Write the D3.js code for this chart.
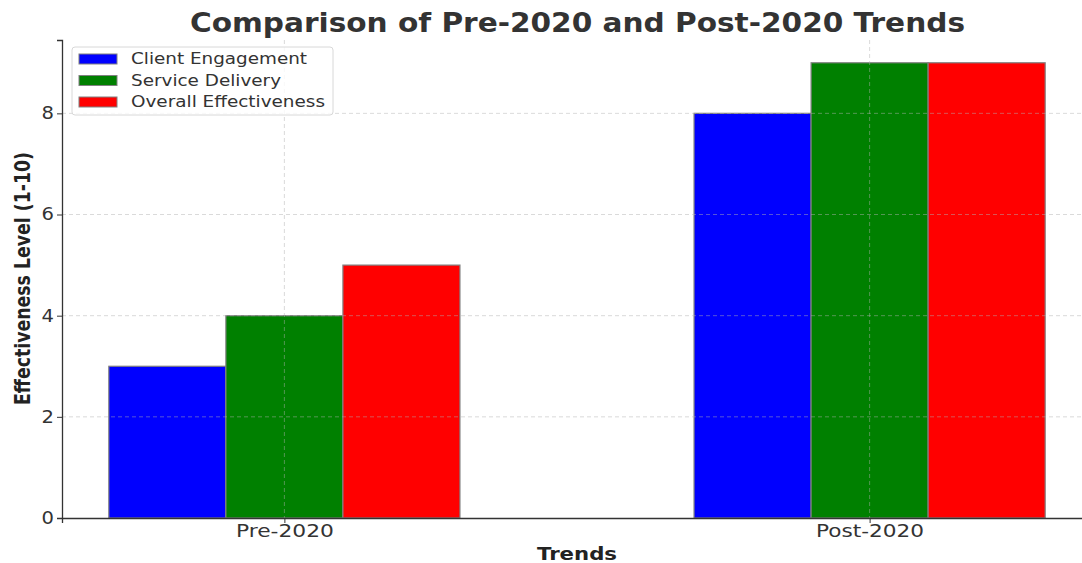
<!DOCTYPE html>
<html>
<head>
<meta charset="utf-8">
<script src="https://cdn.jsdelivr.net/npm/d3@7"></script>
<style>
  body { margin: 0; background: #fff; }
  text { font-family: "DejaVu Sans", sans-serif; }
</style>
</head>
<body>
<div id="chart"></div>
<script>
// chart data
var categories = ["Pre-2020", "Post-2020"];
var seriesNames = ["Client Engagement", "Service Delivery", "Overall Effectiveness"];
var clientEngagement = [3, 8];
var serviceDelivery = [4, 9];
var overallEffectiveness = [5, 9];
var yTicks = [0, 2, 4, 6, 8];
var colors = ["#0000ff", "#008000", "#ff0000"];

var seriesValues = [clientEngagement, serviceDelivery, overallEffectiveness];

var svgWidth = 1082;
var svgHeight = 563;

var margin = { top: 40, right: -10, bottom: 45, left: 62 };
var width = svgWidth - margin.left - margin.right;
var height = svgHeight - margin.top - margin.bottom;

// the reference text is stretched sideways, so widths are forced
var catLabelWidth = [98, 108];
var legendTextWidth = [176, 150, 194];

var svg = d3.select("#chart")
  .append("svg")
  .attr("width", svgWidth)
  .attr("height", svgHeight);

var chartGroup = svg.append("g")
  .attr("transform", `translate(${margin.left}, ${margin.top})`);

var barW = 0.2;

// category i sits at x = i, bars offset by -0.2, 0, 0.2
var xScale = d3.scaleLinear()
  .domain([-0.38, 1.38])
  .range([0, width]);

var yScale = d3.scaleLinear()
  .domain([0, 9.45])
  .range([height, 0]);

// bars
seriesValues.forEach(function (vals, s) {
  chartGroup.selectAll(".bar-" + s)
    .data(vals)
    .enter()
    .append("rect")
    .attr("x", (d, i) => xScale(i + (s - 1) * barW - barW / 2))
    .attr("y", d => yScale(d))
    .attr("width", xScale(barW) - xScale(0))
    .attr("height", d => yScale(0) - yScale(d))
    .attr("fill", colors[s])
    .attr("stroke", "#808080")
    .attr("stroke-width", 1.2);
});

// grid lines (above bars)
chartGroup.selectAll(".hgrid")
  .data(yTicks.slice(1))
  .enter()
  .append("line")
  .attr("x1", 0)
  .attr("x2", width)
  .attr("y1", d => yScale(d))
  .attr("y2", d => yScale(d))
  .attr("stroke", "#b0b0b0")
  .attr("stroke-opacity", 0.6)
  .attr("stroke-dasharray", "4,3")
  .attr("stroke-width", 0.8);

chartGroup.selectAll(".vgrid")
  .data(categories)
  .enter()
  .append("line")
  .attr("x1", (d, i) => xScale(i))
  .attr("x2", (d, i) => xScale(i))
  .attr("y1", 0)
  .attr("y2", height)
  .attr("stroke", "#b0b0b0")
  .attr("stroke-opacity", 0.6)
  .attr("stroke-dasharray", "4,3")
  .attr("stroke-width", 0.8);

// axes
var leftAxis = d3.axisLeft(yScale)
  .tickValues(yTicks)
  .tickFormat(d3.format("d"))
  .tickSize(5)
  .tickPadding(3);

var bottomAxis = d3.axisBottom(xScale)
  .tickValues([0, 1])
  .tickFormat((d, i) => categories[i])
  .tickSize(5)
  .tickPadding(2);

var yAxisG = chartGroup.append("g").call(leftAxis);
var xAxisG = chartGroup.append("g")
  .attr("transform", `translate(0, ${height})`)
  .call(bottomAxis);

[yAxisG, xAxisG].forEach(function (g) {
  g.select(".domain").attr("stroke", "#333").attr("stroke-width", 1.3);
  g.selectAll(".tick line").attr("stroke", "#333").attr("stroke-width", 1);
  g.selectAll(".tick text")
    .style("font-family", "DejaVu Sans")
    .style("font-size", "17px")
    .attr("fill", "#333");
});

yAxisG.selectAll(".tick text")
  .attr("transform", function () {
    var x = +d3.select(this).attr("x");
    return `translate(${x}, 0) scale(1.15, 1) translate(${-x}, 0)`;
  });

xAxisG.selectAll(".tick text")
  .attr("textLength", (d, i) => catLabelWidth[i])
  .attr("lengthAdjust", "spacingAndGlyphs");

// legend
var legend = chartGroup.append("g")
  .attr("transform", "translate(10, 7)");

legend.append("rect")
  .attr("width", 261)
  .attr("height", 68)
  .attr("rx", 3)
  .attr("fill", "#fff")
  .attr("fill-opacity", 0.8)
  .attr("stroke", "#d8d8d8");

seriesNames.forEach(function (name, s) {
  legend.append("rect")
    .attr("x", 7)
    .attr("y", 7 + s * 21.5)
    .attr("width", 38)
    .attr("height", 10)
    .attr("fill", colors[s])
    .attr("stroke", "#808080");
  legend.append("text")
    .attr("x", 59)
    .attr("y", 17 + s * 21.5)
    .style("font-size", "15px")
    .attr("textLength", legendTextWidth[s])
    .attr("lengthAdjust", "spacingAndGlyphs")
    .attr("fill", "#333")
    .text(name);
});

// title and axis labels
svg.append("text")
  .attr("x", 577.5)
  .attr("y", 32)
  .attr("text-anchor", "middle")
  .style("font-size", "26px")
  .style("font-weight", "bold")
  .attr("textLength", 775)
  .attr("lengthAdjust", "spacingAndGlyphs")
  .attr("fill", "#333")
  .text("Comparison of Pre-2020 and Post-2020 Trends");

svg.append("text")
  .attr("x", 577)
  .attr("y", 560)
  .attr("text-anchor", "middle")
  .style("font-size", "18px")
  .style("font-weight", "bold")
  .attr("textLength", 80)
  .attr("lengthAdjust", "spacingAndGlyphs")
  .attr("fill", "#222")
  .text("Trends");

svg.append("text")
  .attr("transform", `translate(30, 278.5) rotate(-90) scale(1, 1.35)`)
  .attr("text-anchor", "middle")
  .style("font-size", "16px")
  .style("font-weight", "bold")
  .attr("textLength", 253)
  .attr("lengthAdjust", "spacingAndGlyphs")
  .attr("fill", "#222")
  .text("Effectiveness Level (1-10)");
</script>
</body>
</html>
